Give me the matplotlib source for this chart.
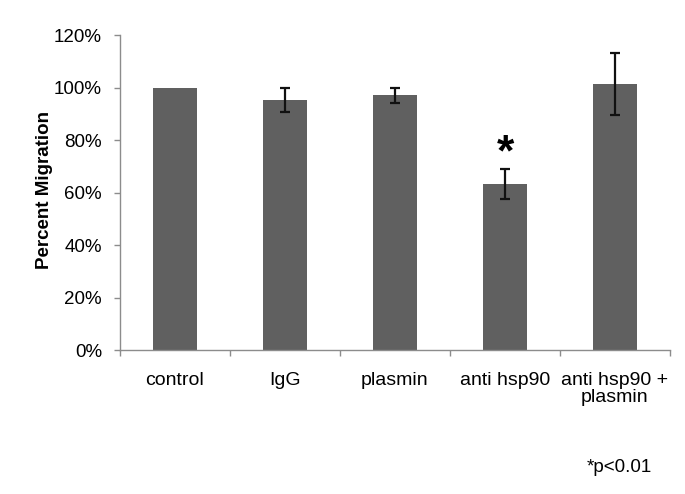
import matplotlib
matplotlib.use("Agg")
import matplotlib.pyplot as plt
from matplotlib.ticker import FixedLocator, PercentFormatter

categories = ["control", "IgG", "plasmin", "anti hsp90", "anti hsp90 +\nplasmin"]
values = [100, 95.2, 97.1, 63.2, 101.5]
errors = [0, 4.7, 2.9, 5.7, 11.8]
significant = [False, False, False, True, False]

plt.rcParams['font.family'] = ['Liberation Sans', 'DejaVu Sans']

fig = plt.figure(figsize=(6.85, 4.94), dpi=100)
ax = fig.add_axes([120 / 685, 144 / 494, 550 / 685, 315 / 494])

x = list(range(len(categories)))
ax.bar(x, values, width=0.4, color='#606060', zorder=2)
for xi, v, e in zip(x, values, errors):
    if e > 0:
        ax.errorbar(xi, v, yerr=e, fmt='none', ecolor='#111111', elinewidth=1.6,
                    capsize=3.4, capthick=1.6, zorder=3)
for xi, v, e, s in zip(x, values, errors, significant):
    if s:
        ax.text(xi, v + e + 1.5, "*", ha='center', va='baseline', fontsize=32,
                fontweight='bold')

ax.set_xlim(-0.5, len(categories) - 0.5)
ax.set_ylim(0, 120)
ax.yaxis.set_major_locator(FixedLocator([0, 20, 40, 60, 80, 100, 120]))
ax.yaxis.set_major_formatter(PercentFormatter(decimals=0))
ax.set_xticks(x)
ax.set_xticklabels(categories, linespacing=1.05)
ax.xaxis.set_minor_locator(FixedLocator([i - 0.5 for i in range(len(categories) + 1)]))
ax.tick_params(axis='x', which='major', length=0, pad=15.5, labelsize=14)
ax.tick_params(axis='x', which='minor', length=4, width=1, color='#8c8c8c', direction='out')
ax.tick_params(axis='y', length=4, width=1, color='#8c8c8c', direction='out',
               labelsize=13.5, pad=9)

for side in ['top', 'right']:
    ax.spines[side].set_visible(False)
for side in ['left', 'bottom']:
    ax.spines[side].set_color('#8c8c8c')
    ax.spines[side].set_linewidth(1.0)

fig.text(45 / 685, 1 - 190 / 494, "Percent Migration", rotation=90, ha='center',
         va='center', fontsize=13.5, fontweight='bold')

fig.text(619.5 / 685, 1 - 467 / 494, "*p<0.01", ha='center', va='center', fontsize=13.5)

fig.savefig("out.png", dpi=100)
